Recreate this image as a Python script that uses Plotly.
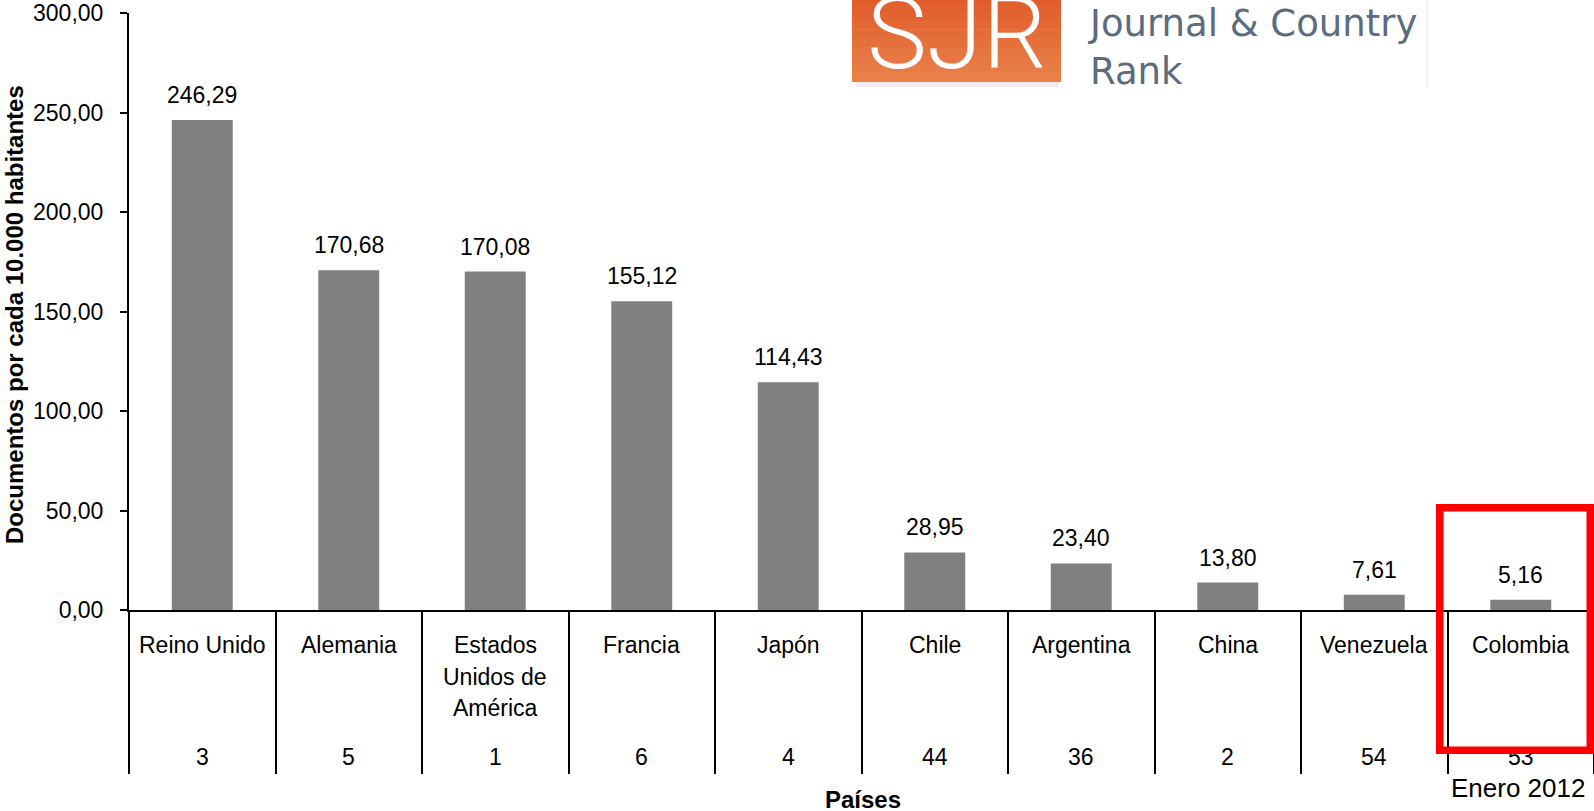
import plotly.graph_objects as go

# ---- data ----
countries = ["Reino Unido", "Alemania", "Estados<br>Unidos de<br>América", "Francia", "Japón",
             "Chile", "Argentina", "China", "Venezuela", "Colombia"]
docs = [246.29, 170.68, 170.08, 155.12, 114.43, 28.95, 23.40, 13.80, 7.61, 5.16]
ranks = ["3", "5", "1", "6", "4", "44", "36", "2", "54", "53"]
y_ticks = [0, 50, 100, 150, 200, 250, 300]
y_tick_labels = ["0,00", "50,00", "100,00", "150,00", "200,00", "250,00", "300,00"]
y_title = "Documentos por cada 10.000 habitantes"
x_title = "Países"
note = "Enero 2012"
logo_mark = "SJR"
logo_text = "SCImago<br>Journal & Country<br>Rank"

# ---- layout geometry (pixels) ----
W, H = 1594, 811
L, R, T, B = 129, 1594, 13, 610
PW, PH = R - L, B - T
YMAX = 300


def px(x):
    return (x - L) / PW


def py(y):
    return (B - y) / PH


FONT = "Liberation Sans, Arial, sans-serif"
FS = 23


def fmt(v):
    return f"{v:.2f}".replace(".", ",")


fig = go.Figure()
fig.add_trace(go.Bar(x=countries, y=docs, marker=dict(color="#808080", line=dict(width=0)),
                     width=0.416, hoverinfo="skip", showlegend=False))

annotations = []
# data labels
for c, v in zip(countries, docs):
    annotations.append(dict(x=c, y=v, xref="x", yref="y", text=fmt(v), showarrow=False,
                            xanchor="center", yanchor="middle", yshift=25,
                            font=dict(family=FONT, size=FS, color="black")))
# category labels
for c in countries:
    for j, line in enumerate(c.split("<br>")):
        annotations.append(dict(x=c, y=0, xref="x", yref="paper", text=line, showarrow=False,
                                xanchor="center", yanchor="middle", yshift=-(35 + 31.5 * j),
                                font=dict(family=FONT, size=FS, color="black")))
# rank row
for c, r in zip(countries, ranks):
    annotations.append(dict(x=c, y=0, xref="x", yref="paper", text=r, showarrow=False,
                            xanchor="center", yanchor="middle", yshift=-146.7,
                            font=dict(family=FONT, size=FS, color="black")))
# axis titles
annotations.append(dict(x=px(14), y=py(315), xref="paper", yref="paper", text=f"<b>{y_title}</b>",
                        textangle=-90, showarrow=False, xanchor="center", yanchor="middle",
                        font=dict(family=FONT, size=24, color="black")))
annotations.append(dict(x=px(863), y=0, xref="paper", yref="paper", text=f"<b>{x_title}</b>",
                        showarrow=False, xanchor="center", yanchor="middle", yshift=-189,
                        font=dict(family=FONT, size=24, color="black")))
annotations.append(dict(x=px(1517.5), y=0, xref="paper", yref="paper", text=note,
                        showarrow=False, xanchor="center", yanchor="middle", yshift=-178,
                        font=dict(family=FONT, size=26, color="black")))

# ---- logo ----
shapes = []
top_c = (224, 92, 43)
bot_c = (233, 128, 74)
nb = 10
y_top, y_bot = -6, 82
for k in range(nb):
    t = k / (nb - 1)
    col = tuple(round(top_c[i] + (bot_c[i] - top_c[i]) * t) for i in range(3))
    y0 = y_top + (y_bot - y_top) * k / nb
    y1 = y_top + (y_bot - y_top) * (k + 1) / nb + (0.5 if k < nb - 1 else 0)
    shapes.append(dict(type="rect", xref="paper", yref="paper", x0=px(852), x1=px(1061),
                       y0=py(y1), y1=py(y0), line=dict(width=0),
                       fillcolor=f"rgb{col}", layer="above"))
shapes.append(dict(type="rect", xref="paper", yref="paper", x0=px(856), x1=px(1058),
                   y0=py(87), y1=py(82), line=dict(width=0), fillcolor="#EDEDED", layer="above"))
shapes.append(dict(type="line", xref="paper", yref="paper", x0=px(1427), x1=px(1427),
                   y0=py(86), y1=py(0), line=dict(color="#E4E4E4", width=1), layer="above"))

annotations.append(dict(x=px(957), y=py(33), xref="paper", yref="paper", text=logo_mark,
                        showarrow=False, xanchor="center", yanchor="middle",
                        font=dict(family="Roboto, Liberation Sans, sans-serif", size=101,
                                  weight=300, color="white")))
annotations.append(dict(x=px(1086), y=py(23.5), xref="paper", yref="paper", text=logo_text,
                        showarrow=False, xanchor="left", yanchor="middle", align="left",
                        font=dict(family="DejaVu Sans, sans-serif", size=37, color="#5B6B80")))

# red highlight frame (drawn last, above the rank numbers)
bw = 7.5
annotations.append(dict(x=px(1436.25), y=py(504.25), xref="paper", yref="paper", text=" ",
                        showarrow=False, xanchor="left", yanchor="top",
                        width=158 - 2 * bw, height=249.5 - 2 * bw, borderpad=0,
                        bordercolor="#FF0000", borderwidth=bw, bgcolor="rgba(0,0,0,0)"))

fig.update_layout(
    width=W, height=H, autosize=False,
    margin=dict(l=L, r=W - R, t=T, b=H - B, pad=0),
    paper_bgcolor="white", plot_bgcolor="white",
    font=dict(family=FONT, size=FS, color="black"),
    xaxis=dict(type="category", categoryorder="array", categoryarray=countries,
               range=[-0.5, len(countries) - 0.5], showline=True, linecolor="black", linewidth=2,
               ticks="outside", tickson="boundaries", ticklen=162, tickwidth=2, tickcolor="black",
               showticklabels=False, showgrid=False, zeroline=False, fixedrange=True),
    xaxis2=dict(overlaying="x", anchor="y", side="bottom", range=[-0.5, len(countries) - 0.5],
                tickmode="array", tickvals=[i - 0.5 for i in range(len(countries) + 1)],
                ticks="inside", ticklen=7, tickwidth=2, tickcolor="black",
                showticklabels=False, showline=False, showgrid=False, zeroline=False),
    yaxis=dict(range=[0, YMAX], tickmode="array", tickvals=y_ticks, ticktext=y_tick_labels,
               showline=True, linecolor="black", linewidth=2, ticks="outside", ticklen=7,
               tickwidth=2, tickcolor="black", ticklabelstandoff=12,
               tickfont=dict(family=FONT, size=FS, color="black"),
               showgrid=False, zeroline=False, fixedrange=True),
    yaxis2=dict(overlaying="y", anchor="x", side="left", range=[0, YMAX], tickmode="array",
                tickvals=y_ticks, ticks="inside", ticklen=7, tickwidth=2, tickcolor="black",
                showticklabels=False, showline=False, showgrid=False, zeroline=False),
    shapes=shapes,
    annotations=annotations,
    showlegend=False,
)

fig.write_html("out.html", config={"displayModeBar": False},
               post_script="document.body.style.margin='0';document.body.style.overflow='hidden';")
